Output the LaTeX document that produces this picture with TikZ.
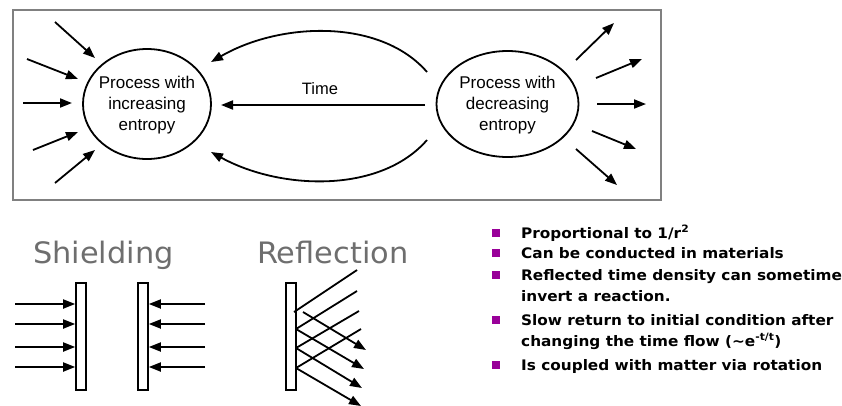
\documentclass[tikz,border=0pt]{standalone}
\usepackage{fontspec}
\setmainfont{Liberation Sans}
\newfontfamily\verdt[FakeStretch=1.03]{DejaVu Sans}
\newfontfamily\verdb[FakeStretch=1.055]{DejaVu Sans}
\usetikzlibrary{arrows.meta,shapes.geometric}
\definecolor{boxgray}{HTML}{808080}
\definecolor{titlegray}{HTML}{6E6E6E}
\definecolor{bulletpurple}{HTML}{990099}
\begin{document}
\begin{tikzpicture}[x=1pt,y=-1pt,
 arr/.style={line width=1.8pt, -{Triangle[length=12pt,width=9pt]}},
 ln/.style={line width=1.8pt},
 proc/.style={ellipse, draw, line width=1.8pt, inner sep=0pt},
 proctext/.style={align=center, inner sep=0pt, font=\fontsize{17}{21}\selectfont},
 barbox/.style={draw, line width=1.6pt, minimum width=10pt, minimum height=107pt, inner sep=0pt},
 title/.style={font=\verdt\fontsize{29.5}{34}\selectfont, text=titlegray, anchor=base west, inner sep=0pt},
 bul/.style={fill=bulletpurple, minimum size=8pt, inner sep=0pt},
 btext/.style={font=\verdb\bfseries\fontsize{14.5}{21}\selectfont, anchor=base west, inner sep=0pt},
]
\useasboundingbox (0,0) rectangle (842,405);
% frame
\node[draw=boxgray, line width=2pt, minimum width=648pt, minimum height=190pt, anchor=north west, inner sep=0pt] (frame) at (12,9) {};
% processes
\node[proc, minimum width=128pt, minimum height=110pt] (inc) at (147,104) {};
\node[proctext] (inct) at (147,105) {Process with\\increasing\\entropy};
\node[proc, minimum width=142pt, minimum height=106pt] (dec) at (507.5,104) {};
\node[proctext] (dect) at (507.5,105) {Process with\\decreasing\\entropy};
% time
\node[font=\fontsize{16.5}{20}\selectfont, inner sep=0pt] (time) at (320,89) {Time};
\coordinate (tS) at (425,105);
\coordinate (tE) at (221,105);
\draw[arr] (tS) -- (tE);
\coordinate (cTS) at (427,72);
\coordinate (cTE) at (211,62);
\draw[arr] (cTS) .. controls (380,18) and (280,22) .. (cTE);
\coordinate (cBS) at (427,140);
\coordinate (cBE) at (211,152);
\draw[arr] (cBS) .. controls (380,194) and (280,190) .. (cBE);
% incoming arrows
\coordinate (i1s) at (55,22);  \coordinate (i1e) at (95,58);
\coordinate (i2s) at (27,59);  \coordinate (i2e) at (78,79);
\coordinate (i3s) at (23,103); \coordinate (i3e) at (72,103);
\coordinate (i4s) at (33,150); \coordinate (i4e) at (78,132);
\coordinate (i5s) at (55,183); \coordinate (i5e) at (95,150);
\foreach \k in {1,...,5} {\draw[arr] (i\k s) -- (i\k e);}
% outgoing arrows
\coordinate (o1s) at (576,60);  \coordinate (o1e) at (614,23);
\coordinate (o2s) at (596,78);  \coordinate (o2e) at (642,59);
\coordinate (o3s) at (597,104); \coordinate (o3e) at (646,104);
\coordinate (o4s) at (592,131); \coordinate (o4e) at (636,149);
\coordinate (o5s) at (576,149); \coordinate (o5e) at (617,185);
\foreach \k in {1,...,5} {\draw[arr] (o\k s) -- (o\k e);}
% titles
\node[title] (shield) at (33,263) {Shielding};
\node[title] (refl) at (257,263) {Reflection};
% shielding bars
\node[barbox] (bar1) at (81,336.5) {};
\node[barbox] (bar2) at (143,336.5) {};
\node[barbox] (bar3) at (291,336.5) {};
\foreach \k/\yy in {1/304,2/324,3/347,4/367} {
  \coordinate (sl\k) at (15,\yy);
  \coordinate (sr\k) at (205,\yy);
  \draw[arr] (sl\k) -- (bar1.west |- sl\k);
  \draw[arr] (sr\k) -- (bar2.east |- sr\k);
}
% reflection rays
\coordinate (a1) at (357,270); \coordinate (h1) at (294,312); \coordinate (r1s) at (303,312); \coordinate (r1e) at (366,350);
\coordinate (a2) at (357,291); \coordinate (h2) at (296,329); \coordinate (r2e) at (364,369);
\coordinate (a3) at (359,311); \coordinate (h3) at (296,348); \coordinate (r3e) at (362,388);
\coordinate (a4) at (361,329); \coordinate (h4) at (296,368); \coordinate (r4e) at (361,406);
\draw[ln] (a1) -- (h1);
\draw[arr] (r1s) -- (r1e);
\foreach \k in {2,3,4} {
  \draw[ln] (a\k) -- (h\k);
  \draw[arr] (h\k) -- (r\k e);
}
% bullets
\foreach \k/\yy in {1/233,2/253,3/275,5/320,7/365} {
  \node[bul] (b\k) at (496,\yy) {};
}
\node[btext] (t1) at (521,238) {Proportional to 1/r\textsuperscript{2}};
\node[btext] (t2) at (521,258) {Can be conducted in materials};
\node[btext] (t3) at (521,280) {Reflected time density can sometime};
\node[btext] (t4) at (521,301) {invert a reaction.};
\node[btext] (t5) at (521,325) {Slow return to initial condition after};
\node[btext] (t6) at (521,346) {changing the time flow (\char"223C e\textsuperscript{-t/t})};
\node[btext] (t7) at (521,370) {Is coupled with matter via rotation};
\end{tikzpicture}
\end{document}
